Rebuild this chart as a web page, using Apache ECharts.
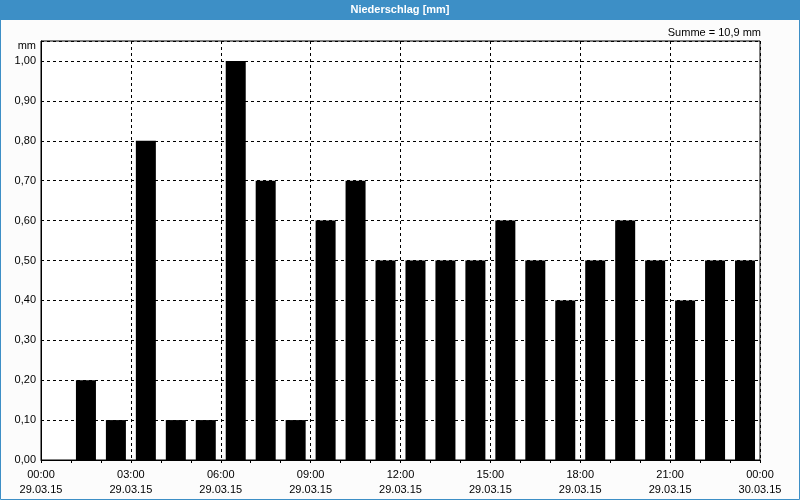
<!DOCTYPE html>
<html>
<head>
<meta charset="utf-8">
<script src="https://cdn.jsdelivr.net/npm/echarts@6/dist/echarts.min.js"></script>
<style>
html,body{margin:0;padding:0;background:#fcfcfc;}
#c{width:800px;height:500px;}
</style>
</head>
<body>
<div id="c"></div>
<script>
// Hourly precipitation (hour start, value in mm)
const hours = [1,2,3,4,5,6,7,8,9,10,11,12,13,14,15,16,17,18,19,20,21,22,23];
const values = [0.2,0.1,0.8,0.1,0.1,1.0,0.7,0.1,0.6,0.7,0.5,0.5,0.5,0.5,0.6,0.5,0.4,0.5,0.6,0.5,0.4,0.5,0.5];
const tickTimes = ['00:00','03:00','06:00','09:00','12:00','15:00','18:00','21:00','00:00'];
const tickDates = ['29.03.15','29.03.15','29.03.15','29.03.15','29.03.15','29.03.15','29.03.15','29.03.15','30.03.15'];
const titleText = 'Niederschlag [mm]';
const unitText = 'mm';
const sumText = 'Summe = 10,9 mm';

const FONT = 'Liberation Sans, Arial, sans-serif';
const chart = echarts.init(document.getElementById('c'), null, {renderer:'canvas'});
const barData = hours.map((h,i)=>[h+0.5, values[i]]);

chart.setOption({
  backgroundColor:'#fcfcfc',
  animation:false,
  grid:{left:41,right:40,top:41,bottom:40,show:true,borderColor:'#000',borderWidth:1,backgroundColor:'#fff'},
  graphic:[
    {type:'rect',shape:{x:0,y:0,width:800,height:20},style:{fill:'#3d8fc6'},z:10},
    {type:'rect',shape:{x:0.5,y:0.5,width:799,height:499},style:{fill:null,stroke:'#3d8fc6',lineWidth:1},z:10},
    {type:'text',x:400,y:10,style:{text:titleText,fill:'#fff',font:'bold 11px '+FONT,align:'center',verticalAlign:'middle'},z:11},
    {type:'text',x:36,y:46,style:{text:unitText,fill:'#000',font:'11px '+FONT,align:'right',verticalAlign:'middle'},z:11},
    {type:'text',x:761,y:33,style:{text:sumText,fill:'#000',font:'11px '+FONT,align:'right',verticalAlign:'middle'},z:11}
  ],
  xAxis:{
    type:'value',min:0,max:24,interval:3,
    axisLine:{show:true,lineStyle:{color:'#000',width:1}},
    axisTick:{show:true,length:3,lineStyle:{color:'#000'}},
    minorTick:{show:true,splitNumber:3,length:3,lineStyle:{color:'#000'}},
    splitLine:{show:true,lineStyle:{color:'#000',type:[3,3],width:1}},
    axisLabel:{
      margin:7,color:'#000',fontFamily:FONT,fontSize:11,lineHeight:15,
      formatter:function(v){const i=Math.round(v/3);return tickTimes[i]+'\n'+tickDates[i];}
    }
  },
  yAxis:{
    type:'value',min:0,max:1.05,interval:0.1,
    axisLine:{show:true,lineStyle:{color:'#000',width:1}},
    axisTick:{show:false},
    splitLine:{show:true,lineStyle:{color:'#000',type:[3,3],width:1}},
    axisLabel:{
      margin:5,color:'#000',fontFamily:FONT,fontSize:11,showMaxLabel:false,
      formatter:function(v){const r=Math.round(v*10);if(Math.abs(v*10-r)>1e-6)return '';return (r/10).toFixed(2).replace('.',',');}
    }
  },
  series:[{
    type:'bar',data:barData,barWidth:20,
    itemStyle:{color:'#000'},
    silent:true
  }]
});
</script>
</body>
</html>
